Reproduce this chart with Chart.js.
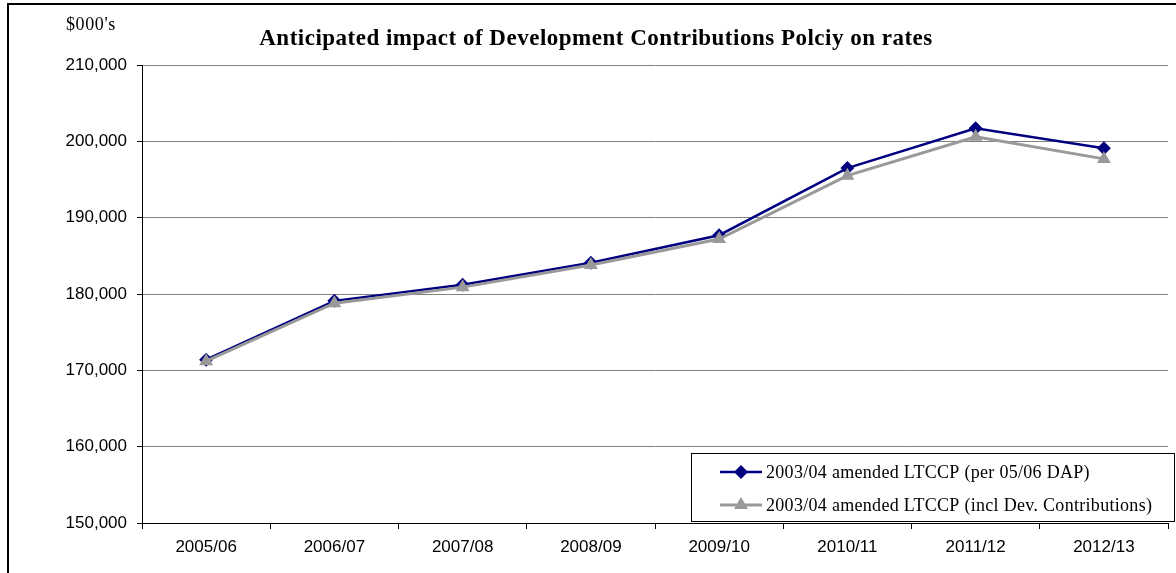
<!DOCTYPE html>
<html>
<head>
<meta charset="utf-8">
<script src="https://cdn.jsdelivr.net/npm/chart.js@4.4.0/dist/chart.umd.min.js"></script>
<style>
    html, body { margin: 0; padding: 0; background: #fff; }
    #wrap { position: relative; width: 1176px; height: 573px; overflow: hidden; }
    #frame { position: absolute; left: 7px; top: 3px; width: 1200px; height: 600px; border: 2px solid #000; box-sizing: border-box; }
    #revenueChart { position: absolute; left: 0; top: 0; }
</style>
</head>
<body>
<div id="wrap">
    <div id="frame"></div>
    <canvas id="revenueChart" width="1176" height="573"></canvas>
</div>
<script>
var years = ['2005/06', '2006/07', '2007/08', '2008/09', '2009/10', '2010/11', '2011/12', '2012/13'];
var dapValues = [171400, 179100, 181200, 184100, 187700, 196500, 201700, 199100];
var devContribValues = [171200, 178800, 180900, 183800, 187200, 195500, 200600, 197700];
var seriesNames = ['2003/04 amended LTCCP (per 05/06 DAP)', '2003/04 amended LTCCP (incl Dev. Contributions)'];
var chartTitle = 'Anticipated impact of Development Contributions Polciy on rates';
var unitLabel = "$000's";

document.addEventListener('DOMContentLoaded', function () {
    var serif = '"Liberation Serif", "Times New Roman", serif';
    var sans = '"Liberation Sans", Arial, sans-serif';

    function spacedText(c, text, x, y, spacing) {
        c.letterSpacing = spacing + 'px';
        c.fillText(text, x, y);
        c.letterSpacing = '0px';
    }

    // title, unit label and the boxed legend are drawn by hand
    var decorations = {
        id: 'decorations',
        afterDraw: function (chart) {
            var c = chart.ctx;
            c.save();
            c.fillStyle = '#000';
            c.textBaseline = 'middle';
            c.font = '18px ' + serif;
            c.textAlign = 'left';
            spacedText(c, unitLabel, 66, 25, 0.6);
            c.font = 'bold 23px ' + serif;
            c.textAlign = 'center';
            spacedText(c, chartTitle, 596, 39, 0.5);

            // legend box
            c.fillStyle = '#fff';
            c.fillRect(691, 453, 483, 68);
            c.strokeStyle = '#000';
            c.lineWidth = 1;
            c.strokeRect(691.5, 453.5, 483, 68);

            var rows = [472, 505];
            // first row is the DAP series (dataset 1), second the dev. contributions one
            [1, 0].forEach(function (di, i) {
                var ds = chart.data.datasets[di];
                var y = rows[i];
                c.strokeStyle = ds.borderColor;
                c.lineWidth = ds.borderWidth;
                c.beginPath();
                c.moveTo(720, y);
                c.lineTo(762, y);
                c.stroke();
                c.fillStyle = ds.pointBackgroundColor;
                c.beginPath();
                if (ds.pointStyle === 'rectRot') {
                    c.moveTo(741, y - 7);
                    c.lineTo(748, y);
                    c.lineTo(741, y + 7);
                    c.lineTo(734, y);
                } else {
                    c.moveTo(741, y - 8);
                    c.lineTo(748, y + 4);
                    c.lineTo(734, y + 4);
                }
                c.closePath();
                c.fill();
                c.fillStyle = '#000';
                c.font = '18px ' + serif;
                c.textAlign = 'left';
                spacedText(c, ds.label, 766, y + 1, 0.3);
            });
            c.restore();
        }
    };

    var ctx = document.getElementById('revenueChart').getContext('2d');
    var revenueChart = new Chart(ctx, {
        type: 'line',
        data: {
            labels: years,
            datasets: [{
                label: seriesNames[1],
                data: devContribValues,
                borderColor: '#999999',
                backgroundColor: '#999999',
                pointBackgroundColor: '#999999',
                pointBorderColor: '#999999',
                borderWidth: 3,
                pointStyle: 'triangle',
                pointRadius: 8,
                pointBorderWidth: 0,
                tension: 0
            }, {
                label: seriesNames[0],
                data: dapValues,
                borderColor: '#000080',
                backgroundColor: '#000080',
                pointBackgroundColor: '#000080',
                pointBorderColor: '#000080',
                borderWidth: 2.5,
                pointStyle: 'rectRot',
                pointRadius: 7,
                pointBorderWidth: 0,
                tension: 0
            }]
        },
        options: {
            responsive: false,
            animation: false,
            layout: { padding: { top: 65, right: 0, left: 0, bottom: 0 } },
            plugins: {
                legend: { display: false },
                tooltip: { enabled: false },
                title: { display: false }
            },
            scales: {
                x: {
                    offset: true,
                    grid: {
                        offset: true,
                        drawOnChartArea: false,
                        drawTicks: true,
                        tickLength: 6,
                        tickColor: '#000'
                    },
                    border: { color: '#000', width: 1 },
                    ticks: {
                        color: '#000',
                        font: { family: sans, size: 17 },
                        padding: 8,
                        maxRotation: 0,
                        autoSkip: false
                    },
                    afterFit: function (scale) { scale.height = 50; }
                },
                y: {
                    min: 150000,
                    max: 210000,
                    grid: {
                        color: '#808080',
                        lineWidth: 1,
                        tickLength: 5,
                        tickColor: '#000'
                    },
                    border: { color: '#000', width: 1 },
                    ticks: {
                        stepSize: 10000,
                        color: '#000',
                        padding: 10,
                        font: { family: sans, size: 17 },
                        callback: function (v) { return v.toLocaleString('en-US'); }
                    },
                    afterFit: function (scale) { scale.width = 142; }
                }
            }
        },
        plugins: [decorations]
    });
});
</script>
</body>
</html>
